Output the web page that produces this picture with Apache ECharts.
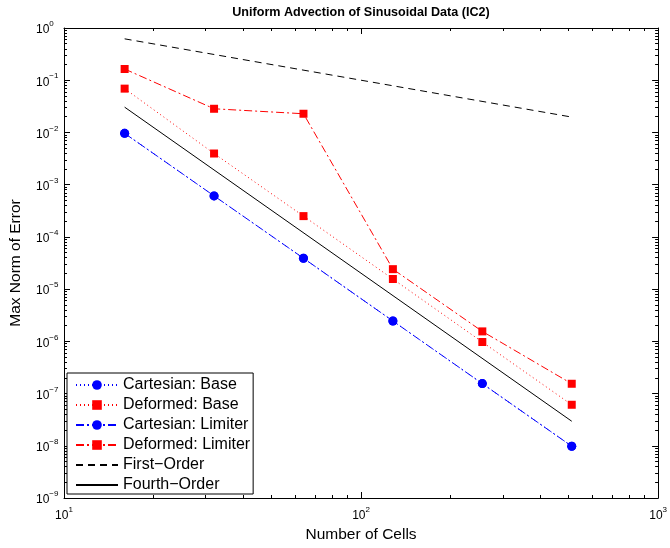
<!DOCTYPE html>
<html>
<head>
<meta charset="utf-8">
<script src="https://cdn.jsdelivr.net/npm/echarts@6/dist/echarts.min.js"></script>
<style>html,body{margin:0;padding:0;background:#fff;}#c{width:670px;height:548px;}</style>
</head>
<body>
<div id="c"></div>
<script>
// ---- data ----
const cells = [16, 32, 64, 128, 256, 512];
const cartesianBase    = [9.6e-3, 6.1e-4, 3.9e-5, 2.45e-6, 1.55e-7, 9.8e-9];
const deformedBase     = [0.069, 3.95e-3, 2.5e-4, 1.56e-5, 9.7e-7, 6.1e-8];
const cartesianLimiter = [9.6e-3, 6.1e-4, 3.9e-5, 2.45e-6, 1.55e-7, 9.8e-9];
const deformedLimiter  = [0.164, 0.0284, 0.0228, 2.41e-5, 1.55e-6, 1.54e-7];
const refCells   = [16, 512];
const firstOrder = [0.62, 0.0197];
const fourthOrder = [0.0305, 2.95e-8];
const seriesNames = ['Cartesian: Base', 'Deformed: Base', 'Cartesian: Limiter', 'Deformed: Limiter', 'First\u2212Order', 'Fourth\u2212Order'];
const xMajorTicks = [10, 100, 1000];
const yMajorTicks = [1e-9, 1e-8, 1e-7, 1e-6, 1e-5, 1e-4, 1e-3, 1e-2, 1e-1, 1];
const minorMultipliers = [2, 3, 4, 5, 6, 7, 8, 9];
const xMinorTicks = [];
[10, 100].forEach(d => minorMultipliers.forEach(m => xMinorTicks.push(d * m)));
const yMinorTicks = [];
yMajorTicks.slice(0, 9).forEach(d => minorMultipliers.forEach(m => yMinorTicks.push(+(d * m).toPrecision(3))));

const pairs = (xs, ys) => xs.map((x, i) => [x, ys[i]]);
const FONT = 'Liberation Sans';
function powLabel(v) {
  const e = Math.round(Math.log10(v));
  return '{b|10}{s|' + (e < 0 ? '\u2212' + (-e) : e) + '}';
}
const rich = {
  b: {fontSize: 12, fontFamily: FONT, color: '#000', lineHeight: 16, verticalAlign: 'bottom'},
  s: {fontSize: 8, fontFamily: FONT, color: '#000', lineHeight: 9, verticalAlign: 'top'}
};
const lineBlack = {show: true, onZero: false, lineStyle: {color: '#000', width: 1}};

function xAx(pos, ticks, len, labels, line) {
  return {
    type: 'log', logBase: 10, min: 10, max: 1000, position: pos,
    axisLine: line ? lineBlack : {show: false, onZero: false},
    axisTick: {show: true, inside: true, length: len, customValues: ticks, lineStyle: {color: '#000', width: 1}},
    axisLabel: labels ? {show: true, customValues: xMajorTicks, formatter: powLabel, rich: rich, margin: 8} : {show: false},
    splitLine: {show: false}, minorTick: {show: false}
  };
}
function yAx(pos, ticks, len, labels, line) {
  return {
    type: 'log', logBase: 10, min: 1e-9, max: 1, position: pos,
    axisLine: line ? lineBlack : {show: false, onZero: false},
    axisTick: {show: true, inside: true, length: len, customValues: ticks, lineStyle: {color: '#000', width: 1}},
    axisLabel: labels ? {show: true, customValues: yMajorTicks, formatter: powLabel, rich: rich, margin: 28, align: 'left'} : {show: false},
    splitLine: {show: false}, minorTick: {show: false}
  };
}
const xAxes = [xAx('bottom', xMajorTicks, 6, true, true), xAx('bottom', xMinorTicks, 3, false, false),
               xAx('top', xMajorTicks, 6, false, true), xAx('top', xMinorTicks, 3, false, false)];
Object.assign(xAxes[0], {name: 'Number of Cells', nameLocation: 'middle', nameGap: 29,
  nameTextStyle: {fontSize: 15.5, fontFamily: FONT, color: '#000'}});
const yAxes = [yAx('left', yMajorTicks, 6, true, true), yAx('left', yMinorTicks, 3, false, false),
               yAx('right', yMajorTicks, 6, false, true), yAx('right', yMinorTicks, 3, false, false)];
Object.assign(yAxes[0], {name: 'Max Norm of Error', nameLocation: 'middle', nameGap: 40,
  nameTextStyle: {fontSize: 15.5, fontFamily: FONT, color: '#000'}});

const dashDot = [8, 3, 2, 3];
const dotted = [1, 3];
function mk(name, data, color, type, symbol, size) {
  return {
    name: name, type: 'line', data: data, xAxisIndex: 0, yAxisIndex: 0,
    symbol: symbol, symbolSize: size, showSymbol: symbol !== 'none',
    lineStyle: {color: color, width: 1, type: type},
    itemStyle: {color: color},
    emphasis: {disabled: true}, animation: false
  };
}
const hidden = {color: 'rgba(0,0,0,0)', borderWidth: 0, opacity: 0};

const chart = echarts.init(document.getElementById('c'), null, {renderer: 'canvas'});
chart.setOption({
  animation: false,
  grid: {left: 61, right: 9, top: 28, bottom: 47, containLabel: false},
  xAxis: xAxes,
  yAxis: yAxes,
  graphic: [{type: 'text', x: 361, y: 13, style: {text: 'Uniform Advection of Sinusoidal Data (IC2)',
    textAlign: 'center', textVerticalAlign: 'middle', font: 'bold 12.6px "Liberation Sans"', fill: '#000'}}],
  legend: {
    orient: 'vertical', left: 67, top: 373,
    padding: [4, 3, 1, 8], itemGap: 4, itemWidth: 42, itemHeight: 12,
    backgroundColor: '#fff', borderColor: '#000', borderWidth: 1,
    textStyle: {fontSize: 16, fontFamily: FONT, color: '#000'},
    data: [seriesNames[0], seriesNames[1], seriesNames[2], seriesNames[3],
           {name: seriesNames[4], itemStyle: hidden}, {name: seriesNames[5], itemStyle: hidden}],
    selectedMode: false
  },
  series: [
    mk(seriesNames[0], pairs(cells, cartesianBase), '#0000ff', dotted, 'circle', 9),
    mk(seriesNames[1], pairs(cells, deformedBase), '#ff0000', dotted, 'rect', 8),
    mk(seriesNames[2], pairs(cells, cartesianLimiter), '#0000ff', dashDot, 'circle', 9),
    mk(seriesNames[3], pairs(cells, deformedLimiter), '#ff0000', dashDot, 'rect', 8),
    mk(seriesNames[4], pairs(refCells, firstOrder), '#000', [7, 5], 'none', 0),
    mk(seriesNames[5], pairs(refCells, fourthOrder), '#000', 'solid', 'none', 0)
  ]
});
</script>
</body>
</html>
